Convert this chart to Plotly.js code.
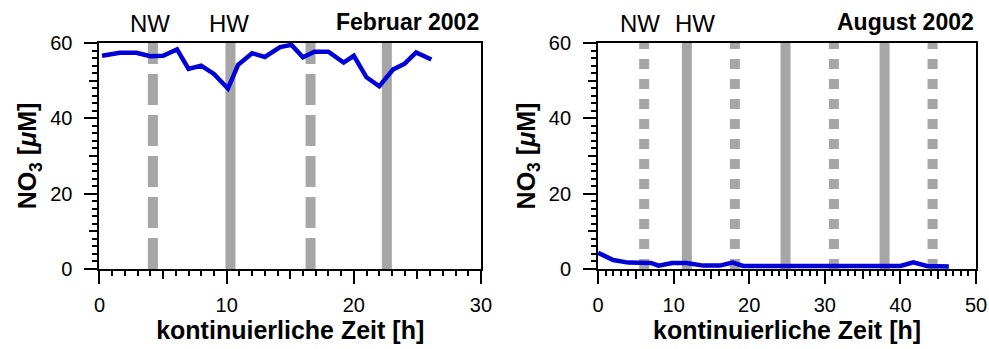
<!DOCTYPE html>
<html><head><meta charset="utf-8">
<script src="https://cdn.plot.ly/plotly-3.0.1.min.js"></script>
<style>html,body{margin:0;padding:0;background:#fff}#chart{width:989px;height:349px}</style>
</head><body><div id="chart"></div>
<script>
// ---- data ----
const febTime = [0.2,1.6,2.9,4.0,5.0,6.1,7.0,8.0,9.0,10.1,10.9,12.0,13.0,14.2,15.1,16.0,16.9,18.0,19.2,20.0,21.0,22.0,23.1,24.0,24.9,26.1];
const febNO3  = [56.6,57.4,57.4,56.5,56.6,58.3,53.1,54.0,51.8,47.9,54.2,57.3,56.3,58.9,59.5,56.2,57.7,57.7,54.8,56.6,50.9,48.5,53.0,54.5,57.5,55.6];
const augTime = [0,2,4,6,7,8,9.8,11.7,13.9,16.1,17.8,19.2,22,24,26,28,30,32,34,36,38,40,41.7,43.5,46.4];
const augNO3  = [4.3,2.4,1.7,1.6,1.6,0.9,1.6,1.6,0.9,0.9,1.7,0.8,0.8,0.8,0.8,0.8,0.8,0.8,0.8,0.8,0.8,0.8,1.8,0.8,0.7];
const febNW = [4.2, 16.6];
const febHW = [10.3, 22.6];
const augNW = [6.1, 18.1, 31.2, 44.25];
const augHW = [11.75, 24.8, 37.9];
const febLabelPos = {NW: 4.0, HW: 10.2};
const augLabelPos = {NW: 5.6, HW: 12.8};
const febTitle = 'Februar 2002';
const augTitle = 'August 2002';
const xTitle = 'kontinuierliche Zeit [h]';
const yTitle = 'NO<sub>3</sub> [<i>μ</i>M]';
const febRange = [0, 30];
const augRange = [0, 50];
const yRange = [0, 60];

// ---- styling ----
const FAM = '"Liberation Sans", Arial, Helvetica, sans-serif';
const BLUE = 'rgb(0,0,215)';
const GREY = '#a6a6a6';
const dxL = [0.1006, 0.4863], dxR = [0.6047, 0.9869], dy = [0.2292, 0.8768];

function mainX(domain, range, anchor) {
  return {domain, range, anchor, tickmode:'linear', tick0:0, dtick:10,
    showline:true, linewidth:2, linecolor:'#000', mirror:true,
    ticks:'outside', ticklen:13, tickwidth:2, tickcolor:'#000',
    ticklabelstandoff:4,
    minor:{ticks:'outside', ticklen:5, tickwidth:2, tickcolor:'#000', tickmode:'linear', tick0:0, dtick:1, showgrid:false},
    showgrid:false, zeroline:false, automargin:false, fixedrange:true,
    tickfont:{family:FAM, size:20, color:'#000'},
    title:{text:'<b>'+xTitle+'</b>', font:{family:FAM, size:25, color:'#000'}, standoff:6}};
}
function mainY(domain, anchor) {
  return {domain, range:yRange, anchor, tickmode:'linear', tick0:0, dtick:20,
    showline:true, linewidth:2, linecolor:'#000', mirror:true,
    ticks:'outside', ticklen:13, tickwidth:2, tickcolor:'#000',
    ticklabelstandoff:8,
    minor:{ticks:'outside', ticklen:5, tickwidth:2, tickcolor:'#000', tickmode:'linear', tick0:0, dtick:2, showgrid:false},
    showgrid:false, zeroline:false, automargin:false, fixedrange:true,
    tickfont:{family:FAM, size:20, color:'#000'},
    title:{text:'<b>'+yTitle+'</b>', font:{family:FAM, size:25, color:'#000'}, standoff:6}};
}
function medX(overlay, domain, range, anchor) {
  return {overlaying:overlay, domain, range, anchor, tickmode:'linear', tick0:0, dtick:5,
    ticks:'outside', ticklen:9, tickwidth:2, tickcolor:'#000', showticklabels:false,
    showline:false, showgrid:false, zeroline:false, automargin:false, fixedrange:true};
}
function medY(overlay, domain, anchor) {
  return {overlaying:overlay, domain, range:yRange, anchor, tickmode:'linear', tick0:0, dtick:10,
    ticks:'outside', ticklen:9, tickwidth:2, tickcolor:'#000', showticklabels:false,
    showline:false, showgrid:false, zeroline:false, automargin:false, fixedrange:true};
}

const traces = [
  {x:febTime, y:febNO3, xaxis:'x', yaxis:'y', mode:'lines', line:{color:BLUE, width:4.5}, hoverinfo:'skip'},
  {x:augTime, y:augNO3, xaxis:'x2', yaxis:'y2', mode:'lines', line:{color:BLUE, width:4.5}, hoverinfo:'skip'},
  {x:[null], y:[null], xaxis:'x3', yaxis:'y3', mode:'lines', showlegend:false, hoverinfo:'skip'},
  {x:[null], y:[null], xaxis:'x4', yaxis:'y4', mode:'lines', showlegend:false, hoverinfo:'skip'}
];

function band(t, xref, yref, dash) {
  return {type:'line', layer:'below', xref, yref, x0:t, x1:t, y0:yRange[0], y1:yRange[1],
    line:{color:GREY, width:10, dash}};
}
const shapes = [
  ...febNW.map(t => band(t, 'x', 'y', '31px,10px')),
  ...febHW.map(t => band(t, 'x', 'y', 'solid')),
  ...augNW.map(t => band(t, 'x2', 'y2', '10px,10px')),
  ...augHW.map(t => band(t, 'x2', 'y2', 'solid'))
];

function lab(text, x, xref, yref) {
  return {text, x, xref, y:1, yref, yanchor:'middle', xanchor:'center', yshift:19, showarrow:false,
    font:{family:FAM, size:24, color:'#000'}};
}
function ttl(text, xref, yref) {
  return {text:'<b>'+text+'</b>', x:1, xref, y:1, yref, xanchor:'right', yanchor:'middle', yshift:21, showarrow:false,
    font:{family:FAM, size:23, color:'#000'}};
}
const annotations = [
  lab('NW', febLabelPos.NW, 'x', 'y domain'), lab('HW', febLabelPos.HW, 'x', 'y domain'),
  lab('NW', augLabelPos.NW, 'x2', 'y2 domain'), lab('HW', augLabelPos.HW, 'x2', 'y2 domain'),
  ttl(febTitle, 'x domain', 'y domain'), ttl(augTitle, 'x2 domain', 'y2 domain')
];

const layout = {
  width:989, height:349, margin:{l:0, r:0, t:0, b:0},
  paper_bgcolor:'#fff', plot_bgcolor:'rgba(0,0,0,0)', showlegend:false,
  font:{family:FAM, color:'#000'},
  xaxis: mainX(dxL, febRange, 'y'),
  yaxis: mainY(dy, 'x'),
  xaxis2: mainX(dxR, augRange, 'y2'),
  yaxis2: mainY(dy, 'x2'),
  xaxis3: medX('x', dxL, febRange, 'y3'),
  yaxis3: medY('y', dy, 'x3'),
  xaxis4: medX('x2', dxR, augRange, 'y4'),
  yaxis4: medY('y2', dy, 'x4'),
  shapes, annotations
};
Plotly.newPlot('chart', traces, layout, {staticPlot:true, displayModeBar:false});
</script></body></html>
